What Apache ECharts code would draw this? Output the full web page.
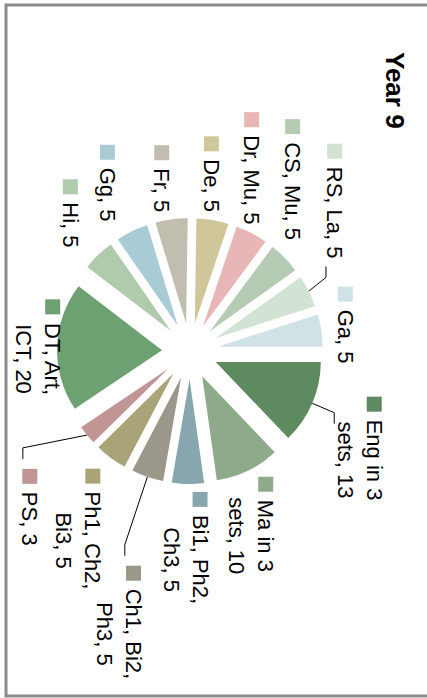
<!DOCTYPE html>
<html>
<head>
<meta charset="utf-8">
<script src="https://cdn.jsdelivr.net/npm/echarts@6/dist/echarts.min.js"></script>
<style>
  html, body { margin: 0; padding: 0; background: #fff; overflow: hidden; }
  /* the chart is laid out landscape and turned a quarter clockwise */
  #wrap { position: absolute; left: 0; top: 0; width: 698px; height: 427px;
          transform-origin: 0 0; transform: translate(427px, 0) rotate(90deg); }
  #chart { width: 698px; height: 427px; }
</style>
</head>
<body>
<div id="wrap"><div id="chart"></div></div>
<script>
// Year 9 lessons per fortnight, by subject block
const subjects = [
  'Eng in 3 sets', 'Ma in 3 sets', 'Bi1, Ph2, Ch3', 'Ch1, Bi2, Ph3', 'Ph1, Ch2, Bi3',
  'PS', 'DT, Art, ICT', 'Hi', 'Gg', 'Fr', 'De', 'Dr, Mu', 'CS, Mu', 'RS, La', 'Ga'
];
const lessons = [13, 10, 5, 5, 5, 3, 20, 5, 5, 5, 5, 5, 5, 5, 5];

const palette = [
  '#5d8a5f', '#8fa98b', '#87a6ae', '#9b988b', '#a9a377',
  '#c29595', '#6da172', '#afcbab', '#a9cbd5', '#c1beaf',
  '#cfc79a', '#e8b6b6', '#b5cbb4', '#d3e3d3', '#d1e2e7'
];

// small label nudges (px) so each label sits clear of its neighbours
const labelNudge = {
  'Eng in 3 sets': [-24, -33], 'Ma in 3 sets': [-13, 2], 'Bi1, Ph2, Ch3': [-8, -5],
  'Ch1, Bi2, Ph3': [72, -7], 'Ph1, Ch2, Bi3': [-8, -34], 'PS': [15, -36],
  'DT, Art, ICT': [64, -29], 'Hi': [6, -7], 'Gg': [2, -6], 'Fr': [5, -21],
  'De': [9, -31], 'Dr, Mu': [18, -32], 'CS, Mu': [19, -35], 'RS, La': [9, -41],
  'Ga': [49, -18]
};
// labels that hang off a leader line: where the line meets the label box
// [x from the box's near edge, fraction down the box]
const leaderAttach = {
  'Eng in 3 sets': [27, 0.94],
  'Ch1, Bi2, Ph3': [-10, 0.4],
  'PS': [-10, 0.74],
  'RS, La': [-8, 0.8]
};

const FONT = '"Liberation Sans", Arial, sans-serif';

// greedy word wrap, roughly ten characters per line
function wrap(text, limit) {
  const words = text.split(' ');
  const lines = [];
  let cur = '';
  words.forEach(w => {
    const next = cur ? cur + ' ' + w : w;
    if (next.length > limit && cur) { lines.push(cur); cur = w; }
    else cur = next;
  });
  if (cur) lines.push(cur);
  return lines;
}

function richFor(colour) {
  return {
    sq:  { width: 15, height: 15, backgroundColor: colour, align: 'center', verticalAlign: 'middle' },
    gap: { width: 15, height: 15, align: 'center' },
    t:   { fontSize: 22, lineHeight: 29, color: '#000', fontFamily: FONT, padding: [0, 0, 0, 8], align: 'center' }
  };
}

const chart = echarts.init(document.getElementById('chart'), null, { renderer: 'svg' });

chart.setOption({
  animation: false,
  title: {
    text: 'Year 9', left: 47, top: 14,
    textStyle: { fontFamily: FONT, fontSize: 26, fontWeight: 'bold', color: '#000' }
  },
  graphic: [{
    type: 'rect', silent: true,
    shape: { x: 5, y: -10, width: 691, height: 431 },
    style: { fill: 'none', stroke: '#8c8c8c', lineWidth: 3 }
  }],
  series: [{
    type: 'pie',
    center: [351, 237],
    radius: [0, 105],
    startAngle: 90,
    clockwise: true,
    selectedMode: 'multiple',
    selectedOffset: 28,
    avoidLabelOverlap: true,
    emphasis: { disabled: true },
    label: {
      show: true,
      position: 'outside',
      fontFamily: FONT,
      fontSize: 22,
      lineHeight: 29,
      color: '#000',
      formatter: p => wrap(p.name + ', ' + p.value, 10)
        .map((line, k) => (k === 0 ? '{sq|}' : '{gap|}') + '{t|' + line + '}')
        .join('\n')
    },
    labelLine: { show: false, length: 6, length2: 10, lineStyle: { color: '#000', width: 1 } },
    labelLayout: p => {
      const name = subjects[p.dataIndex];
      const n = labelNudge[name] || [0, 0];
      const out = { dx: n[0], dy: n[1] };
      const pts = p.labelLinePoints;
      const att = leaderAttach[name];
      if (att && pts && pts.length === 3) {
        const r = p.labelRect;
        const x0 = r.x + n[0], y0 = r.y + n[1];
        const onRight = x0 + r.width / 2 > pts[0][0];   // label lies right of the slice
        const ex = onRight ? x0 + att[0] : x0 + r.width - att[0];
        const ey = y0 + r.height * att[1];
        const toward = onRight ? -1 : 1;
        out.labelLinePoints = [pts[0], [ex + toward * 11, ey], [ex, ey]];
      }
      return out;
    },
    data: subjects.map((name, i) => ({
      name,
      value: lessons[i],
      selected: true,
      itemStyle: { color: palette[i] },
      label: { rich: richFor(palette[i]) },
      labelLine: { show: name in leaderAttach }
    }))
  }]
});
</script>
</body>
</html>
